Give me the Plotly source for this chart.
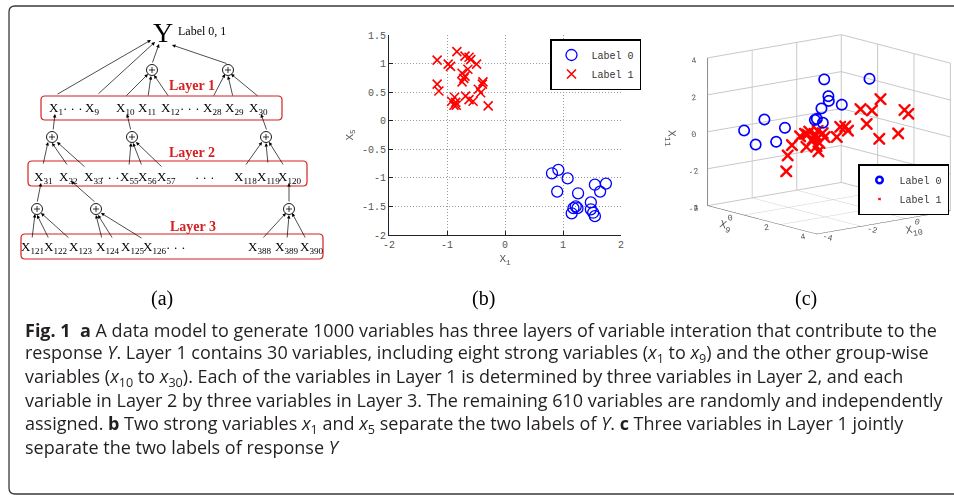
import plotly.graph_objects as go

W, H = 954, 495

# ---------------- Panel (b) data: x1 vs x5 ----------------
b_lab0_x1 = [0.81, 0.92, 1.08, 0.90, 1.26, 1.55, 1.74, 1.64, 1.48, 1.48, 1.52, 1.55, 1.22, 1.25, 1.18, 1.15]
b_lab0_x5 = [-0.92, -0.86, -1.01, -1.24, -1.27, -1.12, -1.10, -1.24, -1.43, -1.55, -1.61, -1.67, -1.50, -1.53, -1.53, -1.62]
b_lab1_x1 = [-1.17, -0.98, -0.94, -0.83, -0.69, -0.62, -0.59, -0.49, -0.64, -0.74, -0.69, -0.74, -1.17, -1.14,
             -0.38, -0.39, -0.46, -0.42, -0.87, -0.92, -0.85, -0.88, -0.84, -0.68, -0.62, -0.55, -0.29, -0.71]
b_lab1_x5 = [1.06, 0.99, 0.95, 1.21, 1.13, 1.11, 1.07, 0.99, 0.90, 0.83, 0.78, 0.68, 0.64, 0.52,
             0.68, 0.64, 0.55, 0.49, 0.41, 0.34, 0.32, 0.27, 0.27, 0.43, 0.37, 0.34, 0.26, 0.74]

# ---------------- Panel (c) data: x9, x10, x11 ----------------
c_lab0_x9 = [-0.97, -0.64, -0.39, -0.05, 0.20, 1.05, 1.11, 1.28, 1.24, 1.45, 1.50, 1.32, 1.82, 2.61]
c_lab0_x10 = [-3.22, -2.97, -2.78, -2.53, -2.34, -1.69, -1.65, -1.52, -1.55, -1.39, -1.45, -1.49, -1.11, -0.51]
c_lab0_x11 = [0.18, -0.55, 0.83, -0.34, 0.44, 0.95, 1.01, 0.82, 1.59, 2.02, 2.30, 3.17, 1.85, 3.33]
c_lab1_x9 = [-0.19, -0.16, -0.06, 0.13, 0.24, 0.30, 0.27, 0.42, 0.47, 0.53, 0.50, 0.55, 0.57, 0.69, 0.97,
             1.05, 1.17, 1.23, 1.52, 1.66, 1.78, 1.98, 1.95, 2.39, 2.53, 2.62, 0.34, 0.46, 0.65]
c_lab1_x10 = [-1.95, -1.91, -1.80, -1.59, -1.46, -1.40, -1.42, -1.26, -1.20, -1.13, -1.16, -1.11, -1.08, -0.95, -0.63,
              -0.54, -0.41, -0.34, -0.01, 0.15, 0.29, 0.51, 0.48, 0.97, 1.14, 1.24, -1.35, -1.21, -1.00]
c_lab1_x11 = [-2.10, -1.24, -0.68, -0.20, -0.06, -0.10, -0.77, -0.35, -0.08, 0.10, -0.73, -1.01, -0.55, -0.23, -0.22,
              0.33, 0.36, 0.13, 1.30, 0.50, 1.23, 1.85, -0.30, 0.00, 1.27, 1.07, 0.06, -0.23, -0.02]

b_xticks = [-2, -1, 0, 1, 2]
b_yticks = [-2, -1.5, -1, -0.5, 0, 0.5, 1, 1.5]
c_x9_ticks = [-2, 0, 2, 4]
c_x10_ticks = [-4, -2, 0, 2]
c_x11_ticks = [-4, -2, 0, 2, 4]
legend_names = ["Label 0", "Label 1"]

# ---------------- Panel (a) diagram layout (pixel space) ----------------
layer1_nodes = [("X<sub>1</sub>", 56), ("\u00b7 \u00b7 \u00b7", 73), ("X<sub>9</sub>", 92), ("X<sub>10</sub>", 125),
                ("X<sub>11</sub>", 147), ("X<sub>12</sub>", 170), ("\u00b7 \u00b7 \u00b7", 190), ("X<sub>28</sub>", 212),
                ("X<sub>29</sub>", 234), ("X<sub>30</sub>", 258)]
layer2_nodes = [("X<sub>31</sub>", 43), ("X<sub>32</sub>", 68), ("X<sub>33</sub>", 93), ("\u00b7 \u00b7 \u00b7", 110),
                ("X<sub>55</sub>", 129), ("X<sub>56</sub>", 147), ("X<sub>57</sub>", 166), ("\u00b7 \u00b7 \u00b7", 205),
                ("X<sub>118</sub>", 245), ("X<sub>119</sub>", 268), ("X<sub>120</sub>", 289)]
layer3_nodes = [("X<sub>121</sub>", 32), ("X<sub>122</sub>", 55), ("X<sub>123</sub>", 80), ("X<sub>124</sub>", 107),
                ("X<sub>125</sub>", 132), ("X<sub>126</sub>", 154), ("\u00b7 \u00b7 \u00b7", 176),
                ("X<sub>388</sub>", 259), ("X<sub>389</sub>", 286), ("X<sub>390</sub>", 311)]
row_y = [108, 177, 247]
layer_boxes = [(41, 96, 282, 120), (28, 161, 307, 186), (21, 234, 323, 259)]
layer_titles = [("Layer 1", 192, 85), ("Layer 2", 192, 152), ("Layer 3", 193, 226)]
plus_nodes = [(152, 70), (228, 70), (52, 137), (132, 137), (266, 137), (37, 209), (96, 209), (289, 209)]
arrows = [
    (56, 95, 151, 40), (97, 95, 155, 42), (152, 64, 159, 44), (228, 64, 172, 45),
    (125, 97, 148, 74), (148, 97, 151, 76), (169, 97, 154, 75),
    (213, 97, 225, 74), (233, 97, 228, 76), (259, 97, 231, 74),
    (53, 131, 55, 114), (131, 131, 127, 114), (267, 131, 261, 114),
    (43, 165, 48, 142), (68, 166, 52, 143), (86, 168, 57, 142),
    (129, 166, 131, 143), (142, 166, 133, 143), (163, 168, 136, 142),
    (245, 166, 262, 142), (268, 164, 266, 143), (284, 166, 269, 142),
    (37, 203, 41, 183), (96, 203, 71, 181), (289, 203, 289, 183),
    (32, 239, 35, 214), (49, 239, 37, 215), (70, 239, 41, 213),
    (102, 239, 96, 215), (113, 239, 98, 215), (143, 239, 101, 213),
    (262, 239, 286, 213), (287, 239, 289, 215), (306, 239, 292, 213),
]

caption_lines = [
    "<b>Fig. 1</b>\u00a0\u00a0<b>a</b> A data model to generate 1000 variables has three layers of variable interation that contribute to the",
    "response <i>Y</i>. Layer 1 contains 30 variables, including eight strong variables (<i>x</i><sub>1</sub> to <i>x</i><sub>9</sub>) and the other group-wise",
    "variables (<i>x</i><sub>10</sub> to <i>x</i><sub>30</sub>). Each of the variables in Layer 1 is determined by three variables in Layer 2, and each",
    "variable in Layer 2 by three variables in Layer 3. The remaining 610 variables are randomly and independently",
    "assigned. <b>b</b> Two strong variables <i>x</i><sub>1</sub> and <i>x</i><sub>5</sub> separate the two labels of <i>Y</i>. <b>c</b> Three variables in Layer 1 jointly",
    "separate the two labels of response <i>Y</i>",
]
caption_y = [330, 353, 377, 400, 424, 447]
panel_labels = [("(a)", 162), ("(b)", 483), ("(c)", 806)]

BLUE = "#0000ff"
RED = "#ff0000"
MONO = "Liberation Mono, DejaVu Sans Mono, monospace"
SERIF = "Liberation Serif, DejaVu Serif, serif"
GREY = "#555555"


def rrect(x0, y0, x1, y1, r):
    return (f"M {x0+r},{y0} L {x1-r},{y0} Q {x1},{y0} {x1},{y0+r} L {x1},{y1-r} Q {x1},{y1} {x1-r},{y1} "
            f"L {x0+r},{y1} Q {x0},{y1} {x0},{y1-r} L {x0},{y0+r} Q {x0},{y0} {x0+r},{y0} Z")


fig = go.Figure()

# Panel (b)
fig.add_trace(go.Scatter(x=b_lab0_x1, y=b_lab0_x5, mode="markers", name=legend_names[0], legend="legend",
                         marker=dict(symbol="circle-open", size=11, color=BLUE, line=dict(width=1.3, color=BLUE)),
                         xaxis="x", yaxis="y"))
fig.add_trace(go.Scatter(x=b_lab1_x1, y=b_lab1_x5, mode="markers", name=legend_names[1], legend="legend",
                         marker=dict(symbol="x-thin-open", size=9, color=RED, line=dict(width=1.6, color=RED)),
                         xaxis="x", yaxis="y"))

# Panel (c)
fig.add_trace(go.Scatter3d(x=c_lab0_x9, y=c_lab0_x10, z=c_lab0_x11, mode="markers", name=legend_names[0],
                           legend="legend2", scene="scene",
                           marker=dict(symbol="circle-open", size=6.5, color=BLUE, line=dict(width=2.5, color=BLUE))))
fig.add_trace(go.Scatter3d(x=c_lab1_x9, y=c_lab1_x10, z=c_lab1_x11, mode="markers", name=legend_names[1],
                           legend="legend2", scene="scene",
                           marker=dict(symbol="x", size=2.8, color=RED)))

# overlay (pixel-space) axes for diagram and page decorations
fig.add_trace(go.Scatter(x=[], y=[], xaxis="x3", yaxis="y3", showlegend=False, hoverinfo="skip"))

shapes = []
annotations = []
P = dict(xref="x3", yref="y3")

# outer border
shapes.append(dict(type="path", path="M 960,6 L 15,6 Q 9,6 9,12 L 9,488 Q 9,494 15,494 L 960,494",
                   line=dict(color="#3a3a3a", width=1.3), **P))

for (x0, y0, x1, y1) in layer_boxes:
    shapes.append(dict(type="path", path=rrect(x0, y0, x1, y1, 4), line=dict(color="#d42020", width=1.2), **P))

for (cx, cy) in plus_nodes:
    r = 5.5
    shapes.append(dict(type="circle", x0=cx - r, y0=cy - r, x1=cx + r, y1=cy + r,
                       line=dict(color="black", width=0.9), **P))
    shapes.append(dict(type="path", path=f"M {cx-3},{cy} L {cx+3},{cy} M {cx},{cy-3} L {cx},{cy+3}",
                       line=dict(color="black", width=0.8), **P))

for (x0, y0, x1, y1) in arrows:
    annotations.append(dict(x=x1, y=y1, ax=x0, ay=y0, axref="x3", ayref="y3", text="", showarrow=True,
                            arrowhead=2, arrowsize=1.0, arrowwidth=0.7, arrowcolor="black", **P))

for nodes, yy in zip([layer1_nodes, layer2_nodes, layer3_nodes], row_y):
    for (txt, xx) in nodes:
        annotations.append(dict(x=xx, y=yy, text=txt, showarrow=False, xanchor="center", yanchor="middle",
                                font=dict(family=SERIF, size=13, color="black"), **P))

for (txt, xx, yy) in layer_titles:
    annotations.append(dict(x=xx, y=yy, text=f"<b>{txt}</b>", showarrow=False, xanchor="center", yanchor="middle",
                            font=dict(family=SERIF, size=14, color="#d42020"), **P))

annotations.append(dict(x=163, y=32, text="Y", showarrow=False, xanchor="center", yanchor="middle",
                        font=dict(family=SERIF, size=28, color="black"), **P))
annotations.append(dict(x=176, y=31, text="Label 0, 1", showarrow=False, xanchor="left", yanchor="middle",
                        font=dict(family=SERIF, size=12, color="black"), **P))

for (txt, xx) in panel_labels:
    annotations.append(dict(x=xx, y=298, text=txt, showarrow=False, xanchor="center", yanchor="middle",
                            font=dict(family=SERIF, size=20, color="black"), **P))

for txt, yy in zip(caption_lines, caption_y):
    annotations.append(dict(x=23, y=yy, text=txt, showarrow=False, xanchor="left", yanchor="middle",
                            font=dict(family="Open Sans, Lato, sans-serif", size=18, color="#231f20"), **P))

axfont = dict(family=MONO, size=11, color=GREY)
tickfont = dict(family=MONO, size=10, color=GREY)
GRIDDASH = "1px,2px"

fig.update_layout(
    width=W, height=H, margin=dict(l=0, r=0, t=0, b=0, autoexpand=False),
    paper_bgcolor="white", plot_bgcolor="rgba(0,0,0,0)",
    showlegend=True,
    xaxis=dict(domain=[389 / W, 621 / W], range=[-2, 2], tickvals=b_xticks, ticktext=[str(v) for v in b_xticks],
               showgrid=True, griddash=GRIDDASH, gridcolor="#9a9a9a", gridwidth=1, zeroline=False,
               showline=True, linecolor="#222", linewidth=1, ticks="inside", ticklen=4, tickcolor="#222",
               tickfont=tickfont, title=dict(text="X<sub>1</sub>", font=axfont, standoff=4), anchor="y",
               automargin=False),
    yaxis=dict(domain=[1 - 235 / H, 1 - 35 / H], range=[-2, 1.5], tickvals=b_yticks,
               ticktext=[("%g" % v) for v in b_yticks],
               showgrid=True, griddash=GRIDDASH, gridcolor="#9a9a9a", gridwidth=1, zeroline=False,
               showline=True, linecolor="#222", linewidth=1, ticks="inside", ticklen=4, tickcolor="#222",
               tickfont=tickfont, title=dict(text="X<sub>5</sub>", font=axfont, standoff=6), anchor="x",
               automargin=False),
    xaxis3=dict(domain=[0, 1], range=[0, W], visible=False, fixedrange=True, anchor="y3", automargin=False),
    yaxis3=dict(domain=[0, 1], range=[H, 0], visible=False, fixedrange=True, anchor="x3", automargin=False),
    legend=dict(x=550 / W, y=1 - 39 / H, xanchor="left", yanchor="top", bgcolor="white",
                bordercolor="black", borderwidth=1.5, font=dict(family=MONO, size=10, color="#333"),
                itemwidth=30, tracegroupgap=0),
    legend2=dict(x=858 / W, y=1 - 164 / H, xanchor="left", yanchor="top", bgcolor="white",
                 bordercolor="black", borderwidth=1.5, font=dict(family=MONO, size=10, color="#333"),
                 itemwidth=30, tracegroupgap=0),
    scene=dict(
        domain=dict(x=[625 / W, 1.0], y=[1 - 258 / H, 1 - 8 / H]),
        aspectmode="manual", aspectratio=dict(x=1.38, y=1.38, z=1.21),
        camera=dict(eye=dict(x=1.29, y=-1.46, z=0.43), up=dict(x=0, y=0, z=1),
                    center=dict(x=-0.24, y=-0.212, z=0),
                    projection=dict(type="orthographic")),
        xaxis=dict(range=[-2, 4], tickvals=c_x9_ticks, ticktext=[str(v) for v in c_x9_ticks],
                   title=dict(text="X<sub>9</sub>", font=axfont), tickfont=tickfont,
                   showbackground=False, gridcolor="#c8c8c8", showline=True, linecolor="#222",
                   zeroline=False, showspikes=False),
        yaxis=dict(range=[-4, 2], tickvals=c_x10_ticks, ticktext=[str(v) for v in c_x10_ticks],
                   title=dict(text="X<sub>10</sub>", font=axfont), tickfont=tickfont,
                   showbackground=False, gridcolor="#c8c8c8", showline=True, linecolor="#222",
                   zeroline=False, showspikes=False),
        zaxis=dict(range=[-4, 4], tickvals=c_x11_ticks, ticktext=[str(v) for v in c_x11_ticks],
                   title=dict(text="X<sub>11</sub>", font=axfont), tickfont=tickfont,
                   showbackground=False, gridcolor="#c8c8c8", showline=True, linecolor="#222",
                   zeroline=False, showspikes=False),
        bgcolor="rgba(0,0,0,0)",
    ),
    shapes=shapes,
    annotations=annotations,
)

fig.write_html("out.html", config={"displayModeBar": False},
               post_script="document.body.style.margin='0px';document.body.style.overflow='hidden';")
